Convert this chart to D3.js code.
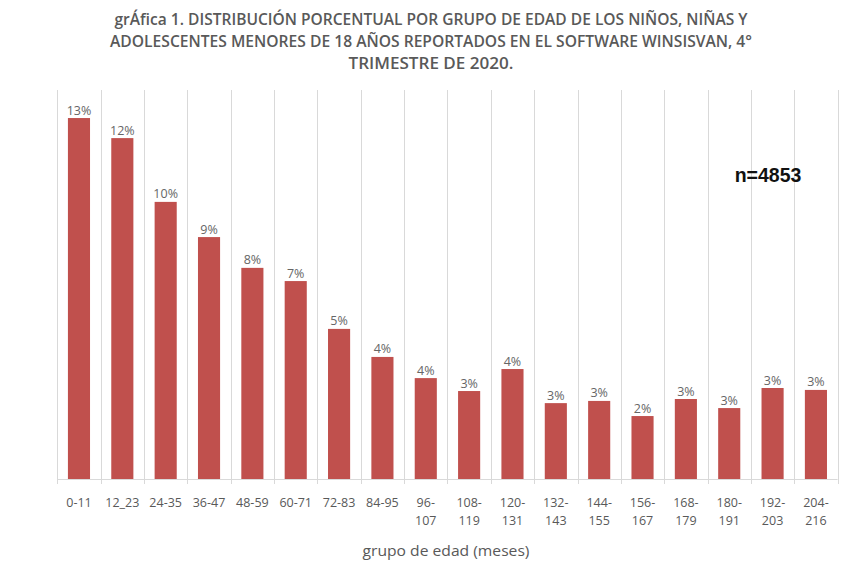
<!DOCTYPE html>
<html>
<head>
<meta charset="utf-8">
<script src="https://cdn.jsdelivr.net/npm/d3@7"></script>
<style>
  body { margin: 0; background: #fff; }
  text { font-family: "Open Sans", "DejaVu Sans", sans-serif; }
</style>
</head>
<body>
<svg id="viz"></svg>
<script>
// data (percent)
var categories = ["0-11", "12_23", "24-35", "36-47", "48-59", "60-71", "72-83", "84-95",
    "96-107", "108-119", "120-131", "132-143", "144-155", "156-167", "168-179",
    "180-191", "192-203", "204-216"];
var values = [13.13, 12.40, 10.08, 8.80, 7.68, 7.20, 5.46, 4.44, 3.67, 3.20, 4.00,
    2.76, 2.84, 2.29, 2.91, 2.58, 3.31, 3.24];
var titleLines = [
    "grÁfica 1. DISTRIBUCIÓN PORCENTUAL POR GRUPO DE EDAD DE LOS NIÑOS, NIÑAS Y",
    "ADOLESCENTES MENORES DE 18 AÑOS REPORTADOS EN EL SOFTWARE WINSISVAN, 4°",
    "TRIMESTRE DE 2020."
];
var titleWidths = [633, 642, 165];
var xTitle = "grupo de edad (meses)";
var note = "n=4853";
var yMax = 14.15;

var width = 843, height = 571;
var plotLeft = 57.3, plotRight = 837.6, plotTop = 90, plotBottom = 479;
var barColor = "#c0504d", textColor = "#595959", gridColor = "#d9d9d9";

var svg = d3.select("#viz").attr("width", width).attr("height", height);

var x = d3.scaleBand().domain(categories).range([plotLeft, plotRight]).paddingInner(0.49).paddingOuter(0.245);
var y = d3.scaleLinear().domain([0, yMax]).range([plotBottom, plotTop]);

// vertical grid lines between categories
var step = x.step();
var grid = svg.append("g");
d3.range(categories.length + 1).forEach(function(i) {
    var gx = Math.round(plotLeft + i * step) + 0.5;
    grid.append("line")
        .attr("x1", gx).attr("x2", gx)
        .attr("y1", plotTop).attr("y2", plotBottom + 5)
        .attr("stroke", gridColor).attr("stroke-width", 1);
});
svg.append("line")
    .attr("x1", plotLeft).attr("x2", plotRight)
    .attr("y1", plotBottom + 0.5).attr("y2", plotBottom + 0.5)
    .attr("stroke", gridColor).attr("stroke-width", 1);

// bars
svg.append("g").selectAll("rect")
    .data(values)
    .enter()
    .append("rect")
    .attr("x", function(d, i) { return x(categories[i]); })
    .attr("width", x.bandwidth())
    .attr("y", function(d) { return y(d); })
    .attr("height", function(d) { return plotBottom - y(d); })
    .attr("fill", barColor);

// data labels
svg.append("g").selectAll("text")
    .data(values)
    .enter()
    .append("text")
    .attr("x", function(d, i) { return x(categories[i]) + x.bandwidth() / 2; })
    .attr("y", function(d) { return y(d) - 3.5; })
    .attr("text-anchor", "middle")
    .attr("font-size", "12.5px")
    .attr("fill", "#666")
    .text(function(d) { return Math.round(d) + "%"; });

// category labels, wrapped like excel does
var xAxis = svg.append("g");
categories.forEach(function(c) {
    var cx = x(c) + x.bandwidth() / 2;
    var lines = c.length > 5 ? [c.slice(0, c.indexOf("-") + 1), c.slice(c.indexOf("-") + 1)] : [c];
    lines.forEach(function(l, j) {
        xAxis.append("text")
            .attr("x", cx)
            .attr("y", 507 + j * 18)
            .attr("text-anchor", "middle")
            .attr("font-size", "12.5px")
            .attr("fill", textColor)
            .text(l);
    });
});

svg.append("text")
    .attr("x", 446).attr("y", 556)
    .attr("text-anchor", "middle")
    .attr("font-size", "14px")
    .attr("fill", textColor)
    .attr("textLength", 167)
    .attr("lengthAdjust", "spacingAndGlyphs")
    .text(xTitle);

// title
titleLines.forEach(function(t, i) {
    svg.append("text")
        .attr("x", 431).attr("y", 25 + i * 22)
        .attr("text-anchor", "middle")
        .attr("font-size", "16.5px")
        .attr("font-weight", 600)
        .attr("fill", textColor)
        .attr("textLength", titleWidths[i])
        .attr("lengthAdjust", "spacingAndGlyphs")
        .text(t);
});

svg.append("text")
    .attr("x", 768).attr("y", 182)
    .attr("text-anchor", "middle")
    .style("font-family", "'Liberation Sans', Arial, sans-serif")
    .attr("font-size", "19.5px")
    .attr("font-weight", "bold")
    .attr("fill", "#111")
    .text(note);
</script>
</body>
</html>
